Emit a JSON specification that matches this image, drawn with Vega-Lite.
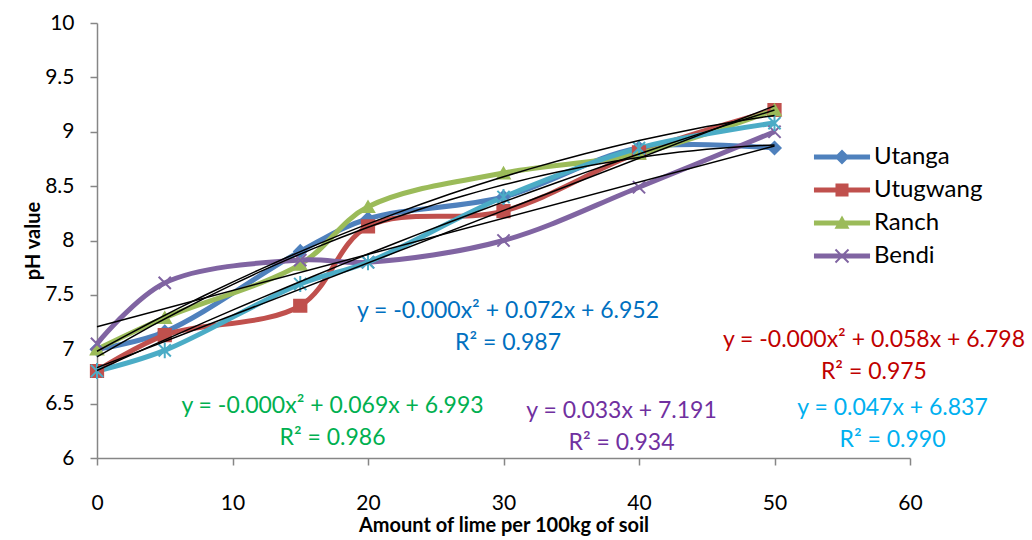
{
  "$schema": "https://vega.github.io/schema/vega-lite/v6.json",
  "width": 813,
  "height": 435,
  "autosize": "none",
  "padding": {"left": 97, "top": 23, "right": 122, "bottom": 82},
  "background": "white",
  "config": {
    "view": {"stroke": null},
    "font": "Lato",
    "axis": {
      "labelFont": "Lato", "labelFontSize": 21, "labelColor": "black",
      "titleFont": "Lato", "titleFontSize": 20, "titleFontWeight": "bold", "titleColor": "black",
      "domainColor": "#868686", "tickColor": "#868686", "domainWidth": 1.5, "tickWidth": 1.5, "tickSize": 7, "grid": false, "labelFlush": false
    }
  },
  "resolve": {"scale": {"shape": "independent"}, "legend": {"color": "independent", "shape": "independent", "stroke": "independent"}},
  "data": {
    "values": [
      {"series": "Utanga", "x": 0, "y": 7.0},
      {"series": "Utanga", "x": 5, "y": 7.16},
      {"series": "Utanga", "x": 15, "y": 7.9},
      {"series": "Utanga", "x": 20, "y": 8.2},
      {"series": "Utanga", "x": 30, "y": 8.4},
      {"series": "Utanga", "x": 40, "y": 8.85},
      {"series": "Utanga", "x": 50, "y": 8.85},
      {"series": "Utugwang", "x": 0, "y": 6.8},
      {"series": "Utugwang", "x": 5, "y": 7.13},
      {"series": "Utugwang", "x": 15, "y": 7.4},
      {"series": "Utugwang", "x": 20, "y": 8.13},
      {"series": "Utugwang", "x": 30, "y": 8.27},
      {"series": "Utugwang", "x": 40, "y": 8.81},
      {"series": "Utugwang", "x": 50, "y": 9.2},
      {"series": "Ranch", "x": 0, "y": 7.0},
      {"series": "Ranch", "x": 5, "y": 7.29},
      {"series": "Ranch", "x": 15, "y": 7.78},
      {"series": "Ranch", "x": 20, "y": 8.31},
      {"series": "Ranch", "x": 30, "y": 8.62},
      {"series": "Ranch", "x": 40, "y": 8.8},
      {"series": "Ranch", "x": 50, "y": 9.2},
      {"series": "Bendi", "x": 0, "y": 7.05},
      {"series": "Bendi", "x": 5, "y": 7.61},
      {"series": "Bendi", "x": 15, "y": 7.82},
      {"series": "Bendi", "x": 20, "y": 7.8},
      {"series": "Bendi", "x": 30, "y": 8.0},
      {"series": "Bendi", "x": 40, "y": 8.49},
      {"series": "Bendi", "x": 50, "y": 9.0},
      {"series": "Series5", "x": 0, "y": 6.8},
      {"series": "Series5", "x": 5, "y": 6.99},
      {"series": "Series5", "x": 15, "y": 7.6},
      {"series": "Series5", "x": 20, "y": 7.8},
      {"series": "Series5", "x": 30, "y": 8.4},
      {"series": "Series5", "x": 40, "y": 8.85},
      {"series": "Series5", "x": 50, "y": 9.08}
    ]
  },
  "encoding": {
    "x": {
      "field": "x", "type": "quantitative",
      "scale": {"domain": [0, 60], "nice": false},
      "axis": {"values": [0, 10, 20, 30, 40, 50, 60], "title": "Amount of lime per 100kg of soil", "labelPadding": 27, "titlePadding": 2}
    },
    "y": {
      "field": "y", "type": "quantitative",
      "scale": {"domain": [6, 10], "nice": false, "zero": false},
      "axis": {"values": [6, 6.5, 7, 7.5, 8, 8.5, 9, 9.5, 10], "format": "~g", "title": "pH value", "labelPadding": 16, "titleX": -64, "titleBaseline": "middle"}
    }
  },
  "layer": [
    {
      "mark": {"type": "line", "interpolate": "catmull-rom", "strokeWidth": 5},
      "encoding": {
        "color": {"field": "series", "type": "nominal", "legend": null,
          "scale": {"domain": ["Utanga", "Utugwang", "Ranch", "Bendi", "Series5"], "range": ["#4F81BD", "#C0504D", "#9BBB59", "#8064A2", "#4BACC6"]}},
        "order": {"field": "x"}
      }
    },
    {
      "mark": {"type": "point", "filled": true, "size": 150, "strokeWidth": 2, "opacity": 1},
      "encoding": {
        "color": {"field": "series", "type": "nominal", "legend": null,
          "scale": {"domain": ["Utanga", "Utugwang", "Ranch", "Bendi", "Series5"], "range": ["#4F81BD", "#C0504D", "#9BBB59", "#8064A2", "#4BACC6"]}},
        "stroke": {"field": "series", "type": "nominal", "legend": null,
          "scale": {"domain": ["Utanga", "Utugwang", "Ranch", "Bendi", "Series5"], "range": ["#4F81BD", "#C0504D", "#9BBB59", "#8064A2", "#4BACC6"]}},
        "shape": {"field": "series", "type": "nominal", "legend": null,
          "scale": {"domain": ["Utanga", "Utugwang", "Ranch", "Bendi", "Series5"], "range": ["diamond", "square", "triangle-up", "M-1,-1L1,1M-1,1L1,-1", "M-1,-1L1,1M-1,1L1,-1M0,-1.3L0,1.3"]}}
      }
    },
    {
      "transform": [{"filter": {"field": "series", "oneOf": ["Utanga", "Utugwang", "Ranch", "Bendi"]}}],
      "mark": {"type": "point", "filled": true, "size": 150, "opacity": 0},
      "encoding": {
        "color": {"field": "series", "type": "nominal",
          "scale": {"domain": ["Utanga", "Utugwang", "Ranch", "Bendi", "Series5"], "range": ["#4F81BD", "#C0504D", "#9BBB59", "#8064A2", "#4BACC6"]},
          "legend": {
            "values": ["Utanga", "Utugwang", "Ranch", "Bendi"],
            "title": null, "orient": "none", "legendX": 733, "legendY": 122, "padding": 0,
            "labelFont": "Lato", "labelFontSize": 24, "labelColor": "black", "labelOffset": 20,
            "symbolSize": 170, "rowPadding": 9, "symbolOpacity": 1, "symbolStrokeWidth": 0
          }},
        "shape": {"field": "series", "type": "nominal",
          "scale": {"domain": ["Utanga", "Utugwang", "Ranch", "Bendi", "Series5"], "range": [
            "M-4.3,-0.38L4.3,-0.38L4.3,0.38L-4.3,0.38Z M0,-1.15L1.15,0L0,1.15L-1.15,0Z",
            "M-4.3,-0.38L4.3,-0.38L4.3,0.38L-4.3,0.38Z M-1,-1L1,-1L1,1L-1,1Z",
            "M-4.3,-0.38L4.3,-0.38L4.3,0.38L-4.3,0.38Z M0,-1.15L1.15,0.9L-1.15,0.9Z",
            "M-4.3,-0.38L4.3,-0.38L4.3,0.38L-4.3,0.38Z M-0.894,-1.106L1.106,0.894L0.894,1.106L-1.106,-0.894Z M-0.894,1.106L-1.106,0.894L0.894,-1.106L1.106,-0.894Z",
            "M-4.3,-0.38L4.3,-0.38L4.3,0.38L-4.3,0.38Z"]},
          "legend": {
            "values": ["Utanga", "Utugwang", "Ranch", "Bendi"],
            "title": null, "orient": "none", "legendX": 733, "legendY": 122, "padding": 0,
            "labelFont": "Lato", "labelFontSize": 24, "labelColor": "black", "labelOffset": 20,
            "symbolSize": 170, "rowPadding": 9, "symbolOpacity": 1, "symbolStrokeWidth": 0
          }}
      }
    },
    {
      "transform": [
        {"filter": {"field": "series", "oneOf": ["Utanga", "Utugwang", "Ranch"]}},
        {"regression": "y", "on": "x", "groupby": ["series"], "method": "poly", "order": 2}
      ],
      "mark": {"type": "line", "color": "black", "strokeWidth": 1.5},
      "encoding": {"detail": {"field": "series", "type": "nominal"}}
    },
    {
      "transform": [
        {"filter": {"field": "series", "oneOf": ["Bendi", "Series5"]}},
        {"regression": "y", "on": "x", "groupby": ["series"], "method": "linear"}
      ],
      "mark": {"type": "line", "color": "black", "strokeWidth": 1.5},
      "encoding": {"detail": {"field": "series", "type": "nominal"}}
    },
    {
      "data": {"values": [{"x": 30.33, "y": 7.352, "label": "y = -0.000x² + 0.072x + 6.952\nR² = 0.987"}]},
      "mark": {"type": "text", "font": "Lato", "fontSize": 23, "color": "#0070C0", "lineBreak": "\n", "lineHeight": 32, "align": "center", "baseline": "middle"},
      "encoding": {"text": {"field": "label"}}
    },
    {
      "data": {"values": [{"x": 57.34, "y": 7.085, "label": "y = -0.000x² + 0.058x + 6.798\nR² = 0.975"}]},
      "mark": {"type": "text", "font": "Lato", "fontSize": 23, "color": "#C00000", "lineBreak": "\n", "lineHeight": 32, "align": "center", "baseline": "middle"},
      "encoding": {"text": {"field": "label"}}
    },
    {
      "data": {"values": [{"x": 17.38, "y": 6.478, "label": "y = -0.000x² + 0.069x + 6.993\nR² = 0.986"}]},
      "mark": {"type": "text", "font": "Lato", "fontSize": 23, "color": "#00B050", "lineBreak": "\n", "lineHeight": 32, "align": "center", "baseline": "middle"},
      "encoding": {"text": {"field": "label"}}
    },
    {
      "data": {"values": [{"x": 38.71, "y": 6.432, "label": "y = 0.033x + 7.191\nR² = 0.934"}]},
      "mark": {"type": "text", "font": "Lato", "fontSize": 23, "color": "#7030A0", "lineBreak": "\n", "lineHeight": 32, "align": "center", "baseline": "middle"},
      "encoding": {"text": {"field": "label"}}
    },
    {
      "data": {"values": [{"x": 58.71, "y": 6.46, "label": "y = 0.047x + 6.837\nR² = 0.990"}]},
      "mark": {"type": "text", "font": "Lato", "fontSize": 23, "color": "#00B0F0", "lineBreak": "\n", "lineHeight": 32, "align": "center", "baseline": "middle"},
      "encoding": {"text": {"field": "label"}}
    }
  ]
}
